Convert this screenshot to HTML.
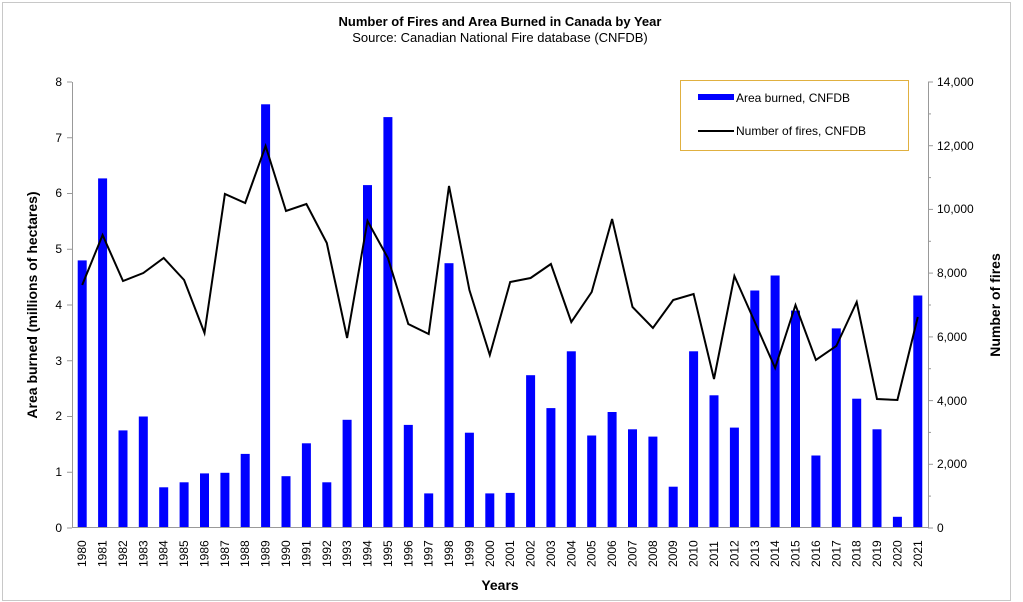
<!DOCTYPE html>
<html><head><style>body{margin:0;background:#fff}svg{display:block;font-family:"Liberation Sans",Arial,sans-serif}</style></head>
<body>
<svg width="1023" height="602" viewBox="0 0 1023 602" xmlns="http://www.w3.org/2000/svg">
<rect x="2.5" y="2.5" width="1008" height="598" fill="#fff" stroke="#c8c8c8"/>
<text x="500" y="26" text-anchor="middle" font-size="13" font-weight="bold">Number of Fires and Area Burned in Canada by Year</text>
<text x="500" y="42" text-anchor="middle" font-size="13">Source: Canadian National Fire database (CNFDB)</text>
<g fill="#0000ff">
<rect x="77.7" y="260.4" width="9" height="267.6"/>
<rect x="98.1" y="178.4" width="9" height="349.6"/>
<rect x="118.5" y="430.4" width="9" height="97.6"/>
<rect x="138.8" y="416.5" width="9" height="111.5"/>
<rect x="159.2" y="487.3" width="9" height="40.7"/>
<rect x="179.6" y="482.3" width="9" height="45.7"/>
<rect x="200.0" y="473.4" width="9" height="54.6"/>
<rect x="220.4" y="472.8" width="9" height="55.2"/>
<rect x="240.7" y="453.9" width="9" height="74.1"/>
<rect x="261.1" y="104.3" width="9" height="423.7"/>
<rect x="281.5" y="476.2" width="9" height="51.8"/>
<rect x="301.9" y="443.3" width="9" height="84.7"/>
<rect x="322.3" y="482.3" width="9" height="45.7"/>
<rect x="342.6" y="419.8" width="9" height="108.2"/>
<rect x="363.0" y="185.1" width="9" height="342.9"/>
<rect x="383.4" y="117.1" width="9" height="410.9"/>
<rect x="403.8" y="424.9" width="9" height="103.1"/>
<rect x="424.2" y="493.4" width="9" height="34.6"/>
<rect x="444.5" y="263.2" width="9" height="264.8"/>
<rect x="464.9" y="432.7" width="9" height="95.3"/>
<rect x="485.3" y="493.4" width="9" height="34.6"/>
<rect x="505.7" y="492.9" width="9" height="35.1"/>
<rect x="526.1" y="375.2" width="9" height="152.8"/>
<rect x="546.4" y="408.1" width="9" height="119.9"/>
<rect x="566.8" y="351.3" width="9" height="176.7"/>
<rect x="587.2" y="435.5" width="9" height="92.5"/>
<rect x="607.6" y="412.0" width="9" height="116.0"/>
<rect x="628.0" y="429.3" width="9" height="98.7"/>
<rect x="648.4" y="436.6" width="9" height="91.4"/>
<rect x="668.7" y="486.7" width="9" height="41.3"/>
<rect x="689.1" y="351.3" width="9" height="176.7"/>
<rect x="709.5" y="395.3" width="9" height="132.7"/>
<rect x="729.9" y="427.6" width="9" height="100.4"/>
<rect x="750.3" y="290.5" width="9" height="237.5"/>
<rect x="770.6" y="275.5" width="9" height="252.5"/>
<rect x="791.0" y="310.6" width="9" height="217.4"/>
<rect x="811.4" y="455.5" width="9" height="72.5"/>
<rect x="831.8" y="328.4" width="9" height="199.6"/>
<rect x="852.2" y="398.7" width="9" height="129.3"/>
<rect x="872.5" y="429.3" width="9" height="98.7"/>
<rect x="892.9" y="516.8" width="9" height="11.2"/>
<rect x="913.3" y="295.5" width="9" height="232.5"/>
</g>
<polyline fill="none" stroke="#000" stroke-width="2" points="82.2,285 102.6,235 123.0,281 143.3,273 163.7,258 184.1,280 204.5,333 224.9,194 245.2,203 265.6,146 286.0,211 306.4,204 326.8,243 347.1,338 367.5,221 387.9,258 408.3,324 428.7,334 449.0,186 469.4,290 489.8,355 510.2,282 530.6,278 550.9,264 571.3,322 591.7,292 612.1,219 632.5,307 652.9,328 673.2,300 693.6,294 714.0,379 734.4,276 754.8,322 775.1,368 795.5,305 815.9,360 836.3,346 856.7,302 877.0,399 897.4,400 917.8,317"/>
<g stroke="#999" stroke-width="1">
<line x1="72.5" y1="82" x2="72.5" y2="528"/>
<line x1="928.5" y1="82" x2="928.5" y2="528"/>
<line x1="72" y1="527.5" x2="929" y2="527.5"/>
<line x1="67" y1="528" x2="72" y2="528"/><line x1="67" y1="472.25" x2="72" y2="472.25"/><line x1="67" y1="416.5" x2="72" y2="416.5"/><line x1="67" y1="360.75" x2="72" y2="360.75"/><line x1="67" y1="305" x2="72" y2="305"/><line x1="67" y1="249.25" x2="72" y2="249.25"/><line x1="67" y1="193.5" x2="72" y2="193.5"/><line x1="67" y1="137.75" x2="72" y2="137.75"/><line x1="67" y1="82" x2="72" y2="82"/>
<line x1="928" y1="528" x2="933" y2="528"/><line x1="928" y1="464.3" x2="933" y2="464.3"/><line x1="928" y1="400.6" x2="933" y2="400.6"/><line x1="928" y1="336.9" x2="933" y2="336.9"/><line x1="928" y1="273.1" x2="933" y2="273.1"/><line x1="928" y1="209.4" x2="933" y2="209.4"/><line x1="928" y1="145.7" x2="933" y2="145.7"/><line x1="928" y1="82" x2="933" y2="82"/>
<line x1="928" y1="496.1" x2="931" y2="496.1"/><line x1="928" y1="432.4" x2="931" y2="432.4"/><line x1="928" y1="368.7" x2="931" y2="368.7"/><line x1="928" y1="305" x2="931" y2="305"/><line x1="928" y1="241.3" x2="931" y2="241.3"/><line x1="928" y1="177.6" x2="931" y2="177.6"/><line x1="928" y1="113.9" x2="931" y2="113.9"/>
</g>
<g font-size="12" text-anchor="end">
<text x="62" y="532">0</text><text x="62" y="476">1</text><text x="62" y="420">2</text><text x="62" y="365">3</text><text x="62" y="309">4</text><text x="62" y="253">5</text><text x="62" y="197">6</text><text x="62" y="142">7</text><text x="62" y="86">8</text>
</g>
<g font-size="12">
<text x="937" y="532">0</text><text x="937" y="468">2,000</text><text x="937" y="405">4,000</text><text x="937" y="341">6,000</text><text x="937" y="277">8,000</text><text x="937" y="213">10,000</text><text x="937" y="150">12,000</text><text x="937" y="86">14,000</text>
</g>
<g font-size="12">
<text transform="translate(86.2,567) rotate(-90)">1980</text>
<text transform="translate(106.6,567) rotate(-90)">1981</text>
<text transform="translate(127.0,567) rotate(-90)">1982</text>
<text transform="translate(147.3,567) rotate(-90)">1983</text>
<text transform="translate(167.7,567) rotate(-90)">1984</text>
<text transform="translate(188.1,567) rotate(-90)">1985</text>
<text transform="translate(208.5,567) rotate(-90)">1986</text>
<text transform="translate(228.9,567) rotate(-90)">1987</text>
<text transform="translate(249.2,567) rotate(-90)">1988</text>
<text transform="translate(269.6,567) rotate(-90)">1989</text>
<text transform="translate(290.0,567) rotate(-90)">1990</text>
<text transform="translate(310.4,567) rotate(-90)">1991</text>
<text transform="translate(330.8,567) rotate(-90)">1992</text>
<text transform="translate(351.1,567) rotate(-90)">1993</text>
<text transform="translate(371.5,567) rotate(-90)">1994</text>
<text transform="translate(391.9,567) rotate(-90)">1995</text>
<text transform="translate(412.3,567) rotate(-90)">1996</text>
<text transform="translate(432.7,567) rotate(-90)">1997</text>
<text transform="translate(453.0,567) rotate(-90)">1998</text>
<text transform="translate(473.4,567) rotate(-90)">1999</text>
<text transform="translate(493.8,567) rotate(-90)">2000</text>
<text transform="translate(514.2,567) rotate(-90)">2001</text>
<text transform="translate(534.6,567) rotate(-90)">2002</text>
<text transform="translate(554.9,567) rotate(-90)">2003</text>
<text transform="translate(575.3,567) rotate(-90)">2004</text>
<text transform="translate(595.7,567) rotate(-90)">2005</text>
<text transform="translate(616.1,567) rotate(-90)">2006</text>
<text transform="translate(636.5,567) rotate(-90)">2007</text>
<text transform="translate(656.9,567) rotate(-90)">2008</text>
<text transform="translate(677.2,567) rotate(-90)">2009</text>
<text transform="translate(697.6,567) rotate(-90)">2010</text>
<text transform="translate(718.0,567) rotate(-90)">2011</text>
<text transform="translate(738.4,567) rotate(-90)">2012</text>
<text transform="translate(758.8,567) rotate(-90)">2013</text>
<text transform="translate(779.1,567) rotate(-90)">2014</text>
<text transform="translate(799.5,567) rotate(-90)">2015</text>
<text transform="translate(819.9,567) rotate(-90)">2016</text>
<text transform="translate(840.3,567) rotate(-90)">2017</text>
<text transform="translate(860.7,567) rotate(-90)">2018</text>
<text transform="translate(881.0,567) rotate(-90)">2019</text>
<text transform="translate(901.4,567) rotate(-90)">2020</text>
<text transform="translate(921.8,567) rotate(-90)">2021</text>
</g>
<text transform="translate(37,305) rotate(-90)" text-anchor="middle" font-size="14" font-weight="bold">Area burned (millions of hectares)</text>
<text transform="translate(1000,305) rotate(-90)" text-anchor="middle" font-size="14" font-weight="bold">Number of fires</text>
<text x="500" y="590" text-anchor="middle" font-size="14" font-weight="bold">Years</text>
<rect x="680.5" y="80.5" width="228" height="70" fill="#fff" stroke="#e0b040"/>
<rect x="698" y="94" width="36" height="6" fill="#0000ff"/>
<text x="736" y="102" font-size="12">Area burned, CNFDB</text>
<line x1="698" y1="131" x2="734" y2="131" stroke="#000" stroke-width="2"/>
<text x="736" y="135" font-size="12">Number of fires, CNFDB</text>
</svg>
</body></html>
